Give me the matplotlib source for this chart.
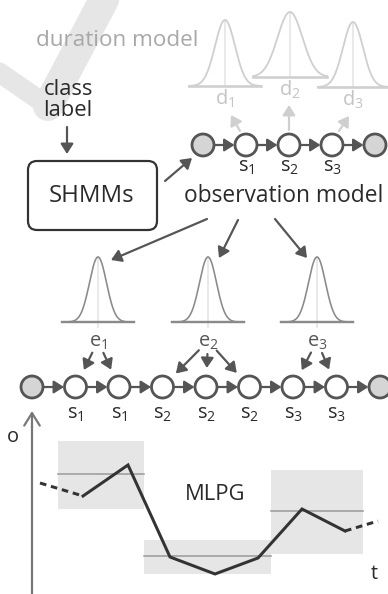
import numpy as np
import matplotlib.pyplot as plt
from matplotlib.patches import Circle, FancyBboxPatch, Rectangle

plt.rcParams['font.family'] = ['Open Sans', 'DejaVu Sans']

# ---- diagram content -------------------------------------------------
top_state_ids = ['1', '2', '3']                      # s1 s2 s3 of the SHMM
frame_state_ids = ['1', '1', '2', '2', '2', '3', '3']  # state of each frame
emission_ids = ['1', '2', '3']
emission_frames = [[0, 1], [2, 3, 4], [5, 6]]        # frames fed by e1, e2, e3

# MLPG panel, o-values measured upward from the t axis (pixels)
frame_t = [83, 128, 170, 215, 258, 302, 345]
trajectory = [92, 123, 31, 14, 30, 79, 57]
traj_lead = (40, 105)     # dashed entry point (t, o)
traj_tail = (378, 67)     # dashed exit point (t, o)
state_t_edges = [58, 144, 271, 363]
state_mean = [114, 32, 77]
state_low = [79, 14, 34]
state_high = [147, 48, 118]

DARK = '#555555'
TEXT = '#2a2a2a'
LIGHT = '#cfcfcf'
W, H = 388, 594
T_AXIS_Y = 588


def px(v):
    return v * 72 / 100


def oy(v):
    return T_AXIS_Y - v


def arrow(ax, p0, p1, color=DARK, lw=2.2, head=7, style='-|>'):
    ax.annotate('', xy=p1, xytext=p0,
                arrowprops=dict(arrowstyle=f'{style},head_length={head/10:.2f},head_width={head/16:.2f}',
                                color=color, lw=px(lw), shrinkA=0, shrinkB=0))


def node(ax, x, y, filled=False):
    ax.add_patch(Circle((x, y), 11, facecolor='#d5d5d5' if filled else 'white',
                        edgecolor=DARK, lw=px(2.8), zorder=4))


def gauss(ax, xc, base, peak, sigma, half, color, lw, stem):
    x = np.linspace(xc - half, xc + half, 200)
    y = base - (base - peak) * np.exp(-0.5 * ((x - xc) / sigma) ** 2)
    ax.plot([xc, xc], [peak, base + stem], color='#e2e2e2', lw=px(1.5), zorder=1)
    ax.plot(x, y, color=color, lw=px(lw), zorder=2)
    ax.plot([xc - half, xc + half], [base, base], color=color, lw=px(lw + 0.8), zorder=2)


def chain(ax, xs, y):
    for i, x in enumerate(xs):
        node(ax, x, y, filled=(i == 0 or i == len(xs) - 1))
    for a, b in zip(xs[:-1], xs[1:]):
        arrow(ax, (a + 11, y), (b - 11.5, y), head=6)


fig = plt.figure(figsize=(W / 100, H / 100), dpi=100)
ax = fig.add_axes([0, 0, 1, 1])
ax.set_xlim(0, W)
ax.set_ylim(H, 0)
ax.axis('off')

# watermark swoosh
ax.plot([-10, 48], [66, 106], color='#e6e6e6', lw=px(20), solid_capstyle='round', zorder=0)
ax.plot([48, 108], [106, -8], color='#e6e6e6', lw=px(30), solid_capstyle='round', zorder=0)

# duration model
ax.text(117, 41, 'duration model', fontsize=px(22.5), color='#a8a8a8', ha='center', va='center')
dur_x = [225, 290, 353]
dur_base = [86, 77, 87]
dur_peak = [20, 12, 22]
dur_sigma = [10, 12.5, 10]
dur_half = [36, 37, 35]
for i, sid in enumerate(top_state_ids):
    gauss(ax, dur_x[i], dur_base[i], dur_peak[i], dur_sigma[i], dur_half[i], LIGHT, 1.8, 0)
    ax.text(dur_x[i], dur_base[i] + 13, rf'$\mathregular{{d_{sid}}}$', fontsize=px(20),
            color='#c4c4c4', ha='center', va='center')

# top SHMM chain
top_x = [203, 246, 289, 332, 375]
chain(ax, top_x, 145)
for i, sid in enumerate(top_state_ids):
    ax.text(top_x[i + 1], 167, rf'$\mathregular{{s_{sid}}}$', fontsize=px(20),
            color=TEXT, ha='center', va='center')
arrow(ax, (240, 131), (231, 115), color=LIGHT, head=6)
arrow(ax, (289, 130), (289, 105), color=LIGHT, head=6)
arrow(ax, (339, 131), (349, 116), color=LIGHT, head=6)

# class label -> SHMMs
ax.text(68, 100, 'class\nlabel', fontsize=px(22), color=TEXT, ha='center', va='center',
        linespacing=0.95)
arrow(ax, (67, 127), (67, 154), head=6)
ax.add_patch(FancyBboxPatch((28, 161), 129, 69, boxstyle='round,pad=0,rounding_size=9',
                            facecolor='white', edgecolor='#333333', lw=px(2.2), zorder=3))
ax.text(92, 196, 'SHMMs', fontsize=px(24), color=TEXT, ha='center', va='center', zorder=4)
arrow(ax, (165, 181), (192, 158), head=6)

ax.text(184, 196, 'observation model', fontsize=px(22.8), color=TEXT, ha='left', va='center')

# observation model -> emission pdfs
emi_x = [98, 208, 317]
arrow(ax, (207, 219), (111, 260), head=6)
arrow(ax, (238, 220), (219, 258), head=6)
arrow(ax, (275, 219), (307, 258), head=6)
for i, eid in enumerate(emission_ids):
    gauss(ax, emi_x[i], 322, 257, 8.5, 36, '#8a8a8a', 1.6, 5)
    ax.text(emi_x[i], 342, rf'$\mathregular{{e_{eid}}}$', fontsize=px(20),
            color=DARK, ha='center', va='center')

# frame-level chain
bot_x = [32 + 43.5 * i for i in range(9)]
chain(ax, bot_x, 387)
for i, sid in enumerate(frame_state_ids):
    ax.text(bot_x[i + 1], 414, rf'$\mathregular{{s_{sid}}}$', fontsize=px(20),
            color=TEXT, ha='center', va='center')
for i, frames in enumerate(emission_frames):
    ex, ey = emi_x[i], 341
    for f in frames:
        nx, ny = bot_x[f + 1], 387
        d = np.array([nx - ex, ny - ey], dtype=float)
        d /= np.hypot(*d)
        arrow(ax, (ex + d[0] * 13, ey + d[1] * 13), (nx - d[0] * 19, ny - d[1] * 19), head=6)

# MLPG panel
for i in range(3):
    x0, x1 = state_t_edges[i], state_t_edges[i + 1]
    ax.add_patch(Rectangle((x0, oy(state_high[i])), x1 - x0, state_high[i] - state_low[i],
                           facecolor='#e6e6e6', edgecolor='none', zorder=1))
    ax.plot([x0, x1], [oy(state_mean[i])] * 2, color='#9d9d9d', lw=px(1.6), zorder=2)

traj_y = [oy(v) for v in trajectory]
ax.plot(frame_t, traj_y, color='#333333', lw=px(3), zorder=3, solid_joinstyle='miter')
ax.plot([traj_lead[0], frame_t[0]], [oy(traj_lead[1]), traj_y[0]], color='#333333',
        lw=px(3), ls=(0, (2.2, 1.6)), zorder=3)
ax.plot([frame_t[-1], traj_tail[0]], [traj_y[-1], oy(traj_tail[1])], color='#333333',
        lw=px(3), ls=(0, (2.2, 1.6)), zorder=3)
ax.text(215, 494, 'MLPG', fontsize=px(22), color=TEXT, ha='center', va='center')

# axes of the panel
arrow(ax, (32, 600), (32, 411), color='#777777', lw=2.2, head=9, style='->')
arrow(ax, (22, T_AXIS_Y), (392, T_AXIS_Y), color='#777777', lw=2.2, head=9, style='->')
ax.text(13, 437, 'o', fontsize=px(20), color=TEXT, ha='center', va='center')
ax.text(374, 574, 't', fontsize=px(20), color=TEXT, ha='center', va='center')

fig.savefig('out.png', dpi=100)
